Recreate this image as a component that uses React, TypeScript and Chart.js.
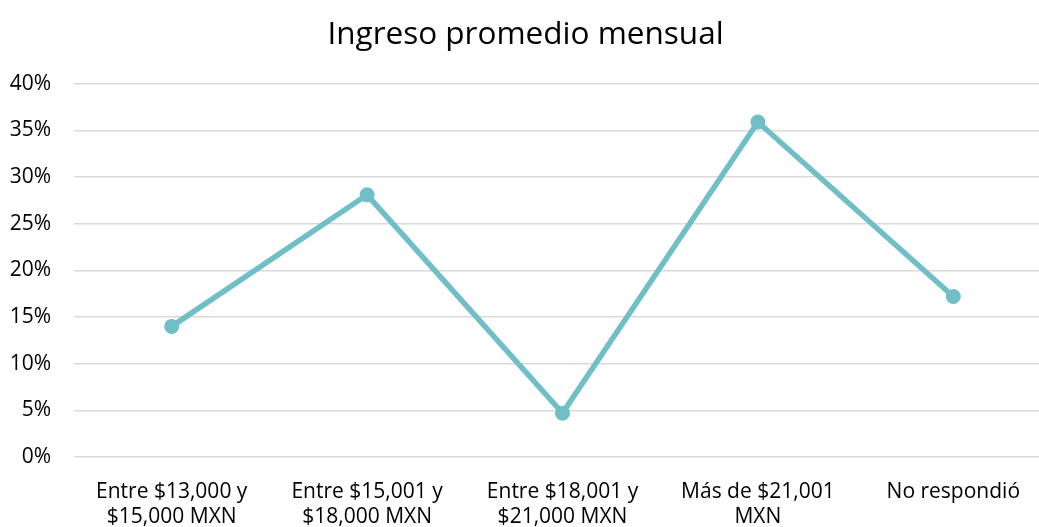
import React, { useEffect, useRef } from "react";
import { Chart, registerables } from "chart.js";

Chart.register(...registerables);

const TITLE = "Ingreso promedio mensual";
const categories: (string | string[])[] = [
  ["Entre $13,000 y", "$15,000 MXN"],
  ["Entre $15,001 y", "$18,000 MXN"],
  ["Entre $18,001 y", "$21,000 MXN"],
  ["Más de $21,001", "MXN"],
  "No respondió",
];
const values = [0.14, 0.281, 0.047, 0.359, 0.172];
const yMin = 0;
const yMax = 0.4;
const yStep = 0.05;

const LINE_COLOR = "#70BFC7";
const FONT = "'Open Sans', 'Liberation Sans', sans-serif";

export default function App() {
  const ref = useRef<HTMLCanvasElement>(null);
  useEffect(() => {
    document.body.style.margin = "0";
    document.body.style.overflow = "hidden";
    const chart = new Chart(ref.current!, {
      type: "line",
      data: {
        labels: categories,
        datasets: [
          {
            data: values,
            borderColor: LINE_COLOR,
            backgroundColor: LINE_COLOR,
            borderWidth: 5.5,
            pointRadius: 7.5,
            pointBackgroundColor: LINE_COLOR,
            pointBorderColor: LINE_COLOR,
            pointBorderWidth: 0,
            tension: 0,
          },
        ],
      },
      options: {
        responsive: false,
        animation: false,
        layout: { padding: { left: 0, right: 24, top: 0, bottom: 0 } },
        plugins: {
          legend: { display: false },
          tooltip: { enabled: false },
          title: {
            display: true,
            text: TITLE,
            color: "#000000",
            font: { family: FONT, size: 31.5, weight: "normal" },
            padding: { top: 16, bottom: 30 },
          },
        },
        scales: {
          x: {
            offset: true,
            grid: { display: false, drawTicks: false },
            border: { display: false },
            ticks: {
              color: "#000000",
              font: { family: FONT, size: 21, lineHeight: 1.2 },
              padding: 22,
              maxRotation: 0,
              autoSkip: false,
            },
            afterFit: (s: any) => {
              s.height = 70;
            },
          },
          y: {
            min: yMin,
            max: yMax,
            grid: { color: "#D9D9D9", lineWidth: 1.5, drawTicks: false },
            border: { display: false },
            ticks: {
              stepSize: yStep,
              color: "#000000",
              font: { family: FONT, size: 21 },
              padding: 23,
              callback: (v: any) => Math.round(Number(v) * 100) + "%",
            },
            afterFit: (s: any) => {
              s.width = 74;
            },
          },
        },
      },
    });
    return () => chart.destroy();
  }, []);
  return (
    <div style={{ width: 1075, height: 527, overflow: "hidden" }}>
      <canvas ref={ref} width={1075} height={527} />
    </div>
  );
}
